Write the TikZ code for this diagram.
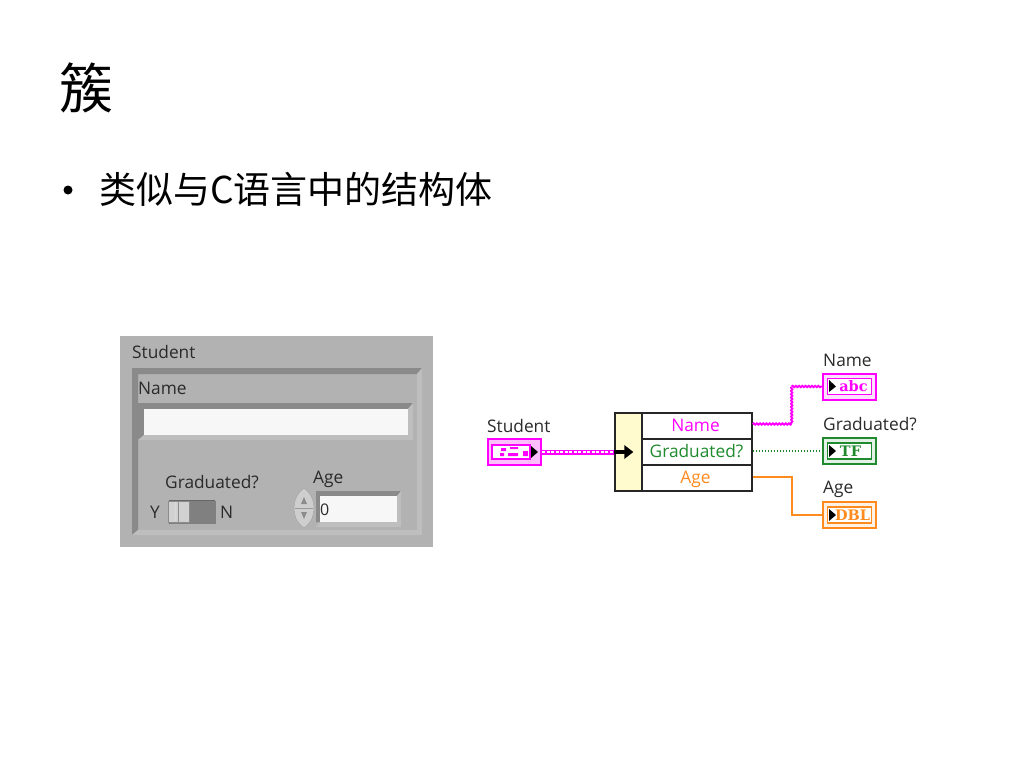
\documentclass[tikz,border=0pt]{standalone}
\usepackage{fontspec}
\setmainfont{Open Sans}
\newfontfamily\cjk{Noto Sans CJK SC}
\newfontfamily\iconfont{DejaVu Serif}
\usetikzlibrary{calc,decorations.pathmorphing}
\definecolor{panelgray}{HTML}{B2B2B2}
\definecolor{bevdark}{HTML}{8A8A8A}
\definecolor{bevlight}{HTML}{BEBEBE}
\definecolor{lblgray}{HTML}{2A2A2A}
\definecolor{lvpink}{HTML}{FF00FF}
\definecolor{lvgreen}{HTML}{1F8A2E}
\definecolor{lvorange}{HTML}{FF8A1E}
\definecolor{cream}{HTML}{FFFBCF}
\tikzset{
  lbl/.style={inner sep=0pt,anchor=west,text=lblgray,font=\fontsize{17.3}{18}\selectfont},
  rowbox/.style={draw=black!85,line width=1.4pt,fill=white,minimum width=110pt,minimum height=26pt,inner sep=0pt,text height=12pt,text depth=1pt,font=\fontsize{17.3}{18}\selectfont},
  term/.style={line width=2pt,minimum width=53pt,minimum height=26pt,inner sep=0pt},
  termin/.style={line width=1.3pt,fill=white,minimum width=44pt,minimum height=16pt,inner sep=0pt,font=\iconfont\bfseries\fontsize{14.5}{15}\selectfont},
  tri/.style={fill=black,draw=none},
  whitebox/.style={fill=white!97!black,draw=none,inner sep=0pt},
  wavy/.style={decorate,decoration={snake,amplitude=.7pt,segment length=3.2pt}},
}
\begin{document}
\begin{tikzpicture}[x=1pt,y=-1pt]
\useasboundingbox[fill=white] (0,0) rectangle (1024,768);
% slide text
\node[inner sep=0pt,anchor=center,font=\cjk\fontsize{54}{56}\selectfont] (title) at (86.5,88) {簇};
\node[circle,fill=black,inner sep=0pt,minimum size=9pt] (bullet) at (68,190) {};
\node[inner sep=0pt,anchor=west,font=\cjk\fontsize{37}{40}\selectfont] (subtitle) at (99,189) {类似与C语言中的结构体};
% front panel
\fill[panelgray] (120,336) rectangle (433,547);
% cluster frame bevel
\fill[bevdark] (132,368) -- (422,368) -- (417,374) -- (138,374) -- (138,530) -- (132,535) -- cycle;
\fill[bevlight] (422,368) -- (422,535) -- (132,535) -- (138,530) -- (417,530) -- (417,374) -- cycle;
\node[lbl] (lstudent) at (132,352) {Student};
\node[lbl] (lname) at (138,388) {Name};
% name string
\fill[bevdark] (138,403) -- (413,403) -- (408,409) -- (144,409) -- (144,435) -- (138,440) -- cycle;
\fill[bevlight] (413,403) -- (413,440) -- (138,440) -- (144,435) -- (408,435) -- (408,409) -- cycle;
\node[whitebox,minimum width=264pt,minimum height=26pt] (namefield) at (276,422) {};
% switch
\node[lbl] (lgrad) at (165,482) {Graduated?};
\node[lbl] (ly) at (150,512) {Y};
\node[lbl] (ln) at (220,512) {N};
\node[draw=none,fill=black!50,minimum width=47pt,minimum height=23pt,inner sep=0pt] (sw) at (192,512) {};
\draw[black!60,line width=.8pt] (169,524) -- (169,500) -- (215,500);
\node[draw=black!45,fill=bevlight!70!white,line width=.8pt,minimum width=21pt,minimum height=21pt,inner sep=0pt] (swk) at (179,512) {};
\draw[black!45,line width=.8pt] (swk.north) ++(-1,0) -- ++(0,21);
\draw[white!85!black,line width=.8pt] (swk.north) ++(-4,1) -- ++(0,19);
% numeric
\node[lbl] (lage) at (313,479) {Age};
\fill[bevdark] (316,491) -- (401,491) -- (397,496) -- (320,496) -- (320,522) -- (316,522) -- cycle;
\fill[bevlight] (401,491) -- (401,527) -- (316,527) -- (320,522) -- (397,522) -- (397,496) -- cycle;
\node[whitebox,minimum width=77pt,minimum height=26pt] (agefield) at (358.5,509) {};
\node[anchor=west,inner sep=0pt,text=lblgray,font=\fontsize{16}{18}\selectfont] (agev) at (320,510) {0};
\fill[bevlight!75!white,draw=black!35,line width=.5pt] (304,488) .. controls (296,494) and (294,502) .. (294,508) .. controls (294,515) and (296,522) .. (304,528) .. controls (312,522) and (314,515) .. (314,508) .. controls (314,502) and (312,494) .. (304,488) -- cycle;
\draw[black!40,line width=.7pt] (295,508) -- (313,508);
\fill[black!45] (304,497) -- (301,504) -- (307,504) -- cycle;
\fill[black!45] (304,519) -- (301,512) -- (307,512) -- cycle;
% block diagram: unbundle
\node[draw=black!85,line width=1.4pt,fill=cream,minimum width=27pt,minimum height=78pt,inner sep=0pt] (ub) at (628.5,452) {};
\node[rowbox,text=lvpink] (rname) at (697,426) {\hspace{-3pt}Name};
\node[rowbox,text=lvgreen] (rgrad) at (697,452) {\hspace{-1pt}Graduated?};
\node[rowbox,text=lvorange] (rage) at (697,478) {\hspace{-3pt}Age};
% terminals
\node[lbl] (tstudent) at (487,426) {Student};
\node[term,draw=lvpink,fill=lvpink!25] (cs) at (514.5,452) {};
\node[lbl] (tname) at (823,360) {Name};
\node[term,draw=lvpink,fill=lvpink!12] (cn) at (849.5,386.5) {};
\node[termin,draw=lvpink,text=lvpink] at (cn) {\hspace{8pt}abc};
\node[lbl] (tgrad) at (823,424) {Graduated?};
\node[term,draw=lvgreen,fill=lvgreen!12] (cg) at (849.5,451) {};
\node[termin,draw=lvgreen,text=lvgreen] at (cg) {\hspace{2pt}TF};
\node[lbl] (tage) at (823,489) {Age};
\node[term,draw=lvorange,fill=lvorange!12] (ca) at (849.5,515) {};
\node[termin,draw=lvorange,text=lvorange] at (ca) {\hspace{6pt}DBL};
% student icon contents
\draw[lvpink,line width=1.3pt,fill=white] (492,445) rectangle (530,459);
\fill[lvpink] (501,448) rectangle (506,451) (510,447) rectangle (518,449) (500,453) rectangle (504,456) (508,453) rectangle (518,456) (523,451) rectangle (528,456);
% terminal triangles
\fill[tri] (531,446) -- (531,458) -- (538,452) -- cycle;
\fill[tri] (829,380) -- (829,392) -- (836,386.5) -- cycle;
\fill[tri] (829,445) -- (829,457) -- (836,451) -- cycle;
\fill[tri] (829,509) -- (829,521) -- (836,515) -- cycle;
% wires
\draw[lvpink,line width=5pt] (cs.east) -- (ub.west |- cs.east);
\draw[white,line width=1.3pt,dash pattern=on 3pt off 1.5pt] (cs.east) -- (ub.west |- cs.east);
\coordinate (n1) at ($(rname.east |- 0,424)+(39,0)$);
\coordinate (n2) at (n1 |- cn.west);
\draw[lvpink,line width=1.9pt,wavy] (rname.east |- n1) -- (n1);
\draw[lvpink,line width=1.9pt,wavy] (n1) -- (n2);
\draw[lvpink,line width=1.9pt,wavy] (n2) -- (cn.west);
\draw[lvgreen,line width=1.4pt,dash pattern=on 1.5pt off 1.5pt] (rgrad.east |- cg.west) -- (cg.west);
\coordinate (a1) at (n1 |- 0,477);
\coordinate (a2) at (a1 |- ca.west);
\draw[lvorange,line width=1.6pt] (rage.east |- a1) -- (a1) -- (a2) -- (ca.west);
% unbundle arrow
\coordinate (arrS) at (ub.west |- cs.east);
\draw[black,line width=3.4pt] (arrS) -- ++(13,0);
\fill[black] ($(arrS)+(10,-7)$) -- ($(arrS)+(19,0)$) -- ($(arrS)+(10,7)$) -- cycle;
\end{tikzpicture}
\end{document}
